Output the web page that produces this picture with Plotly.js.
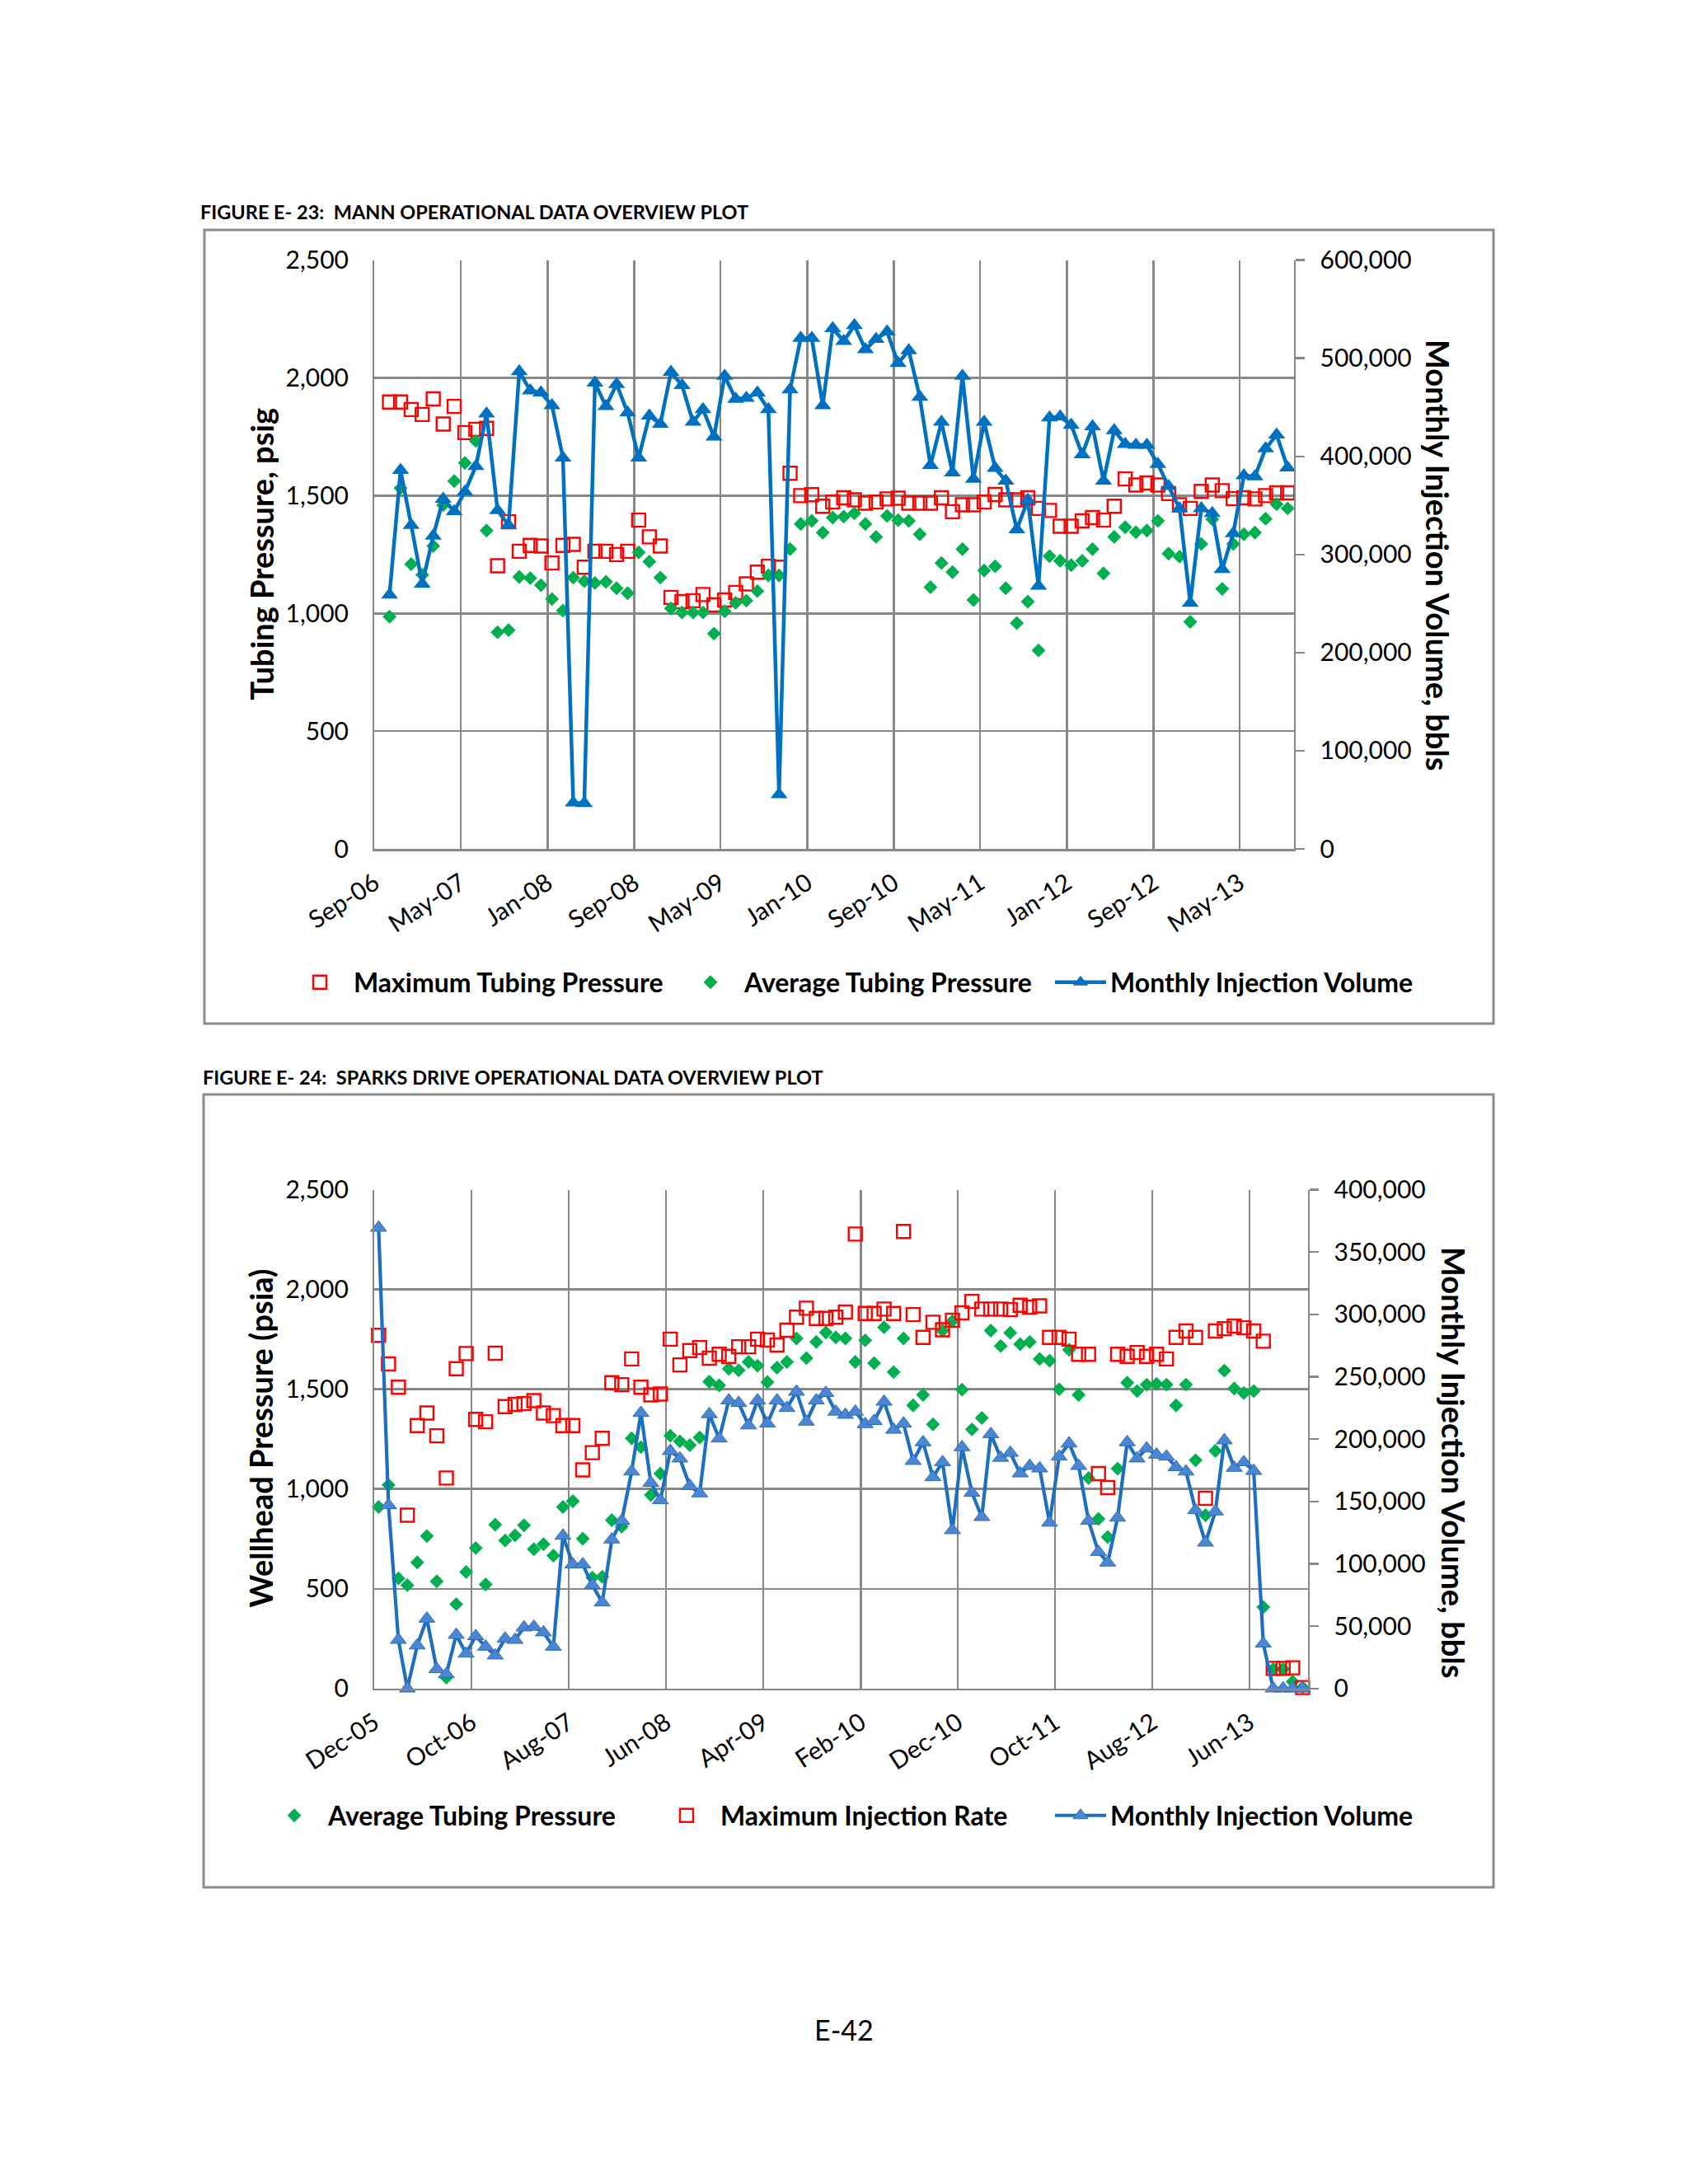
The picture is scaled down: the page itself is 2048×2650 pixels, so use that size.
<!DOCTYPE html>
<html>
<head>
<meta charset="utf-8">
<script src="https://cdn.plot.ly/plotly-3.0.1.min.js"></script>
<style>
  html, body { margin: 0; padding: 0; background: #fff; }
  #page { width: 2048px; height: 2650px; }
</style>
</head>
<body>
<div id="page"></div>
<script>
// Figure E-23, Mann well: Oct-06 .. Sep-13
const mannMonths = [
  "2006-10","2006-11","2006-12",
  "2007-01","2007-02","2007-03","2007-04","2007-05","2007-06","2007-07","2007-08","2007-09","2007-10","2007-11","2007-12",
  "2008-01","2008-02","2008-03","2008-04","2008-05","2008-06","2008-07","2008-08","2008-09","2008-10","2008-11","2008-12",
  "2009-01","2009-02","2009-03","2009-04","2009-05","2009-06","2009-07","2009-08","2009-09","2009-10","2009-11","2009-12",
  "2010-01","2010-02","2010-03","2010-04","2010-05","2010-06","2010-07","2010-08","2010-09","2010-10","2010-11","2010-12",
  "2011-01","2011-02","2011-03","2011-04","2011-05","2011-06","2011-07","2011-08","2011-09","2011-10","2011-11","2011-12",
  "2012-01","2012-02","2012-03","2012-04","2012-05","2012-06","2012-07","2012-08","2012-09","2012-10","2012-11","2012-12",
  "2013-01","2013-02","2013-03","2013-04","2013-05","2013-06","2013-07","2013-08","2013-09"
];
const mannMaxTubing = [
  1898, 1898, 1866, 1845, 1911, 1804, 1879, 1768, 1782, 1786,
  1202, 1389, 1264, 1289, 1286, 1214, 1289, 1293, 1196, 1264,
  1264, 1250, 1264, 1396, 1325, 1286, 1068, 1050, 1054, 1080,
  1036, 1057, 1089, 1125, 1175, 1200, 1196, 1595, 1500, 1504,
  1455, 1473, 1491, 1482, 1468, 1473, 1486, 1489, 1468, 1468,
  1468, 1491, 1432, 1461, 1461, 1473, 1505, 1482, 1482, 1491,
  1446, 1437, 1370, 1370, 1393, 1407, 1396, 1455, 1571, 1545,
  1554, 1545, 1509, 1461, 1446, 1518, 1545, 1521, 1487, 1491,
  1486, 1500, 1512, 1512
];
const mannAvgTubing = [
  986, 1532, 1209, 1164, 1286, 1460, 1562, 1639, 1732, 1352,
  920, 929, 1155, 1150, 1120, 1061, 1012, 1152, 1137, 1129,
  1134, 1107, 1086, 1259, 1220, 1152, 1021, 1004, 1004, 1004,
  914, 1009, 1045, 1054, 1095, 1161, 1161, 1273, 1380, 1393,
  1343, 1407, 1411, 1425, 1380, 1325, 1414, 1396, 1393, 1336,
  1111, 1214, 1175, 1273, 1057, 1182, 1200, 1107, 959, 1050,
  843, 1243, 1223, 1205, 1223, 1273, 1170, 1325, 1366, 1345,
  1352, 1393, 1254, 1241, 964, 1295, 1400, 1104, 1295, 1336,
  1343, 1402, 1464, 1446
];
const mannVolume = [
  259000, 386000, 330000, 270000, 319000, 356500, 344000, 364000, 390000, 443500,
  345000, 330000, 486500, 467000, 465000, 452000, 398500, 47000, 46500, 475000,
  451000, 473500, 444500, 398500, 441500, 433000, 486000, 472500, 435000, 448000,
  420000, 482000, 458500, 459500, 465000, 448000, 55500, 468000, 520500, 520500,
  452000, 530500, 517500, 533500, 509000, 519500, 527000, 495000, 508000, 460500,
  391000, 435000, 383500, 482000, 377000, 435000, 388000, 375000, 325500, 355500,
  268000, 439500, 440500, 432000, 402000, 430500, 375000, 426500, 412500, 411500,
  411500, 392000, 369500, 347000, 250500, 347000, 342000, 285000, 321500, 380500,
  379500, 408000, 422000, 388500
];

// Figure E-24, Sparks Drive well: Dec-05 .. Nov-13
const sparksMonths = [
  "2005-12",
  "2006-01","2006-02","2006-03","2006-04","2006-05","2006-06","2006-07","2006-08","2006-09","2006-10","2006-11","2006-12",
  "2007-01","2007-02","2007-03","2007-04","2007-05","2007-06","2007-07","2007-08","2007-09","2007-10","2007-11","2007-12",
  "2008-01","2008-02","2008-03","2008-04","2008-05","2008-06","2008-07","2008-08","2008-09","2008-10","2008-11","2008-12",
  "2009-01","2009-02","2009-03","2009-04","2009-05","2009-06","2009-07","2009-08","2009-09","2009-10","2009-11","2009-12",
  "2010-01","2010-02","2010-03","2010-04","2010-05","2010-06","2010-07","2010-08","2010-09","2010-10","2010-11","2010-12",
  "2011-01","2011-02","2011-03","2011-04","2011-05","2011-06","2011-07","2011-08","2011-09","2011-10","2011-11","2011-12",
  "2012-01","2012-02","2012-03","2012-04","2012-05","2012-06","2012-07","2012-08","2012-09","2012-10","2012-11","2012-12",
  "2013-01","2013-02","2013-03","2013-04","2013-05","2013-06","2013-07","2013-08","2013-09","2013-10","2013-11"
];
const sparksAvgTubing = [
  910, 1020, 552, 518, 632, 764, 537, 55, 423, 584,
  704, 522, 821, 742, 768, 818, 698, 723, 666, 910,
  939, 751, 556, 560, 844, 812, 1254, 1210, 970, 1077,
  1267, 1239, 1220, 1258, 1538, 1519, 1603, 1595, 1637, 1618,
  1536, 1608, 1637, 1755, 1656, 1737, 1785, 1760, 1755, 1637,
  1745, 1631, 1811, 1586, 1755, 1419, 1472, 1324, 1794, 1842,
  1498, 1299, 1356, 1794, 1717, 1783, 1726, 1737, 1652, 1643,
  1500, 1698, 1472, 1055, 850, 759, 1102, 1533, 1491, 1523,
  1527, 1523, 1419, 1523, 1144, 869, 1191, 1593, 1504, 1481,
  1491, 408, 97, 97, 34, 6
];
const sparksMaxRate = [
  1770, 1627, 1510, 869, 1318, 1381, 1267, 1055, 1603, 1679,
  1349, 1337, 1681, 1413, 1424, 1428, 1443, 1381, 1368, 1318,
  1318, 1096, 1182, 1254, 1533, 1523, 1652, 1510, 1472, 1476,
  1751, 1622, 1694, 1709, 1656, 1675, 1665, 1713, 1713, 1751,
  1747, 1722, 1796, 1861, 1906, 1855, 1855, 1861, 1887, 2278,
  1880, 1880, 1902, 1880, 2291, 1874, 1760, 1836, 1798, 1846,
  1883, 1940, 1902, 1902, 1902, 1899, 1921, 1912, 1918, 1760,
  1760, 1751, 1675, 1675, 1077, 1007, 1675, 1665, 1684, 1665,
  1675, 1652, 1760, 1792, 1760, 954, 1792, 1804, 1817, 1808,
  1792, 1741, 101, 101, 104, 5
];
const sparksVolume = [
  369500, 147000, 39000, 0, 34500, 56000, 15500, 11500, 43000, 28000,
  42000, 33500, 26500, 40000, 39000, 49000, 49500, 45000, 33500, 122500,
  99500, 99500, 83000, 69000, 119500, 134500, 174000, 221000, 165000, 151000,
  190500, 184500, 162500, 156500, 220000, 200500, 231000, 229000, 211000, 231000,
  212500, 231000, 225000, 238000, 214000, 231000, 237000, 222000, 219500, 222000,
  212000, 214500, 230000, 207500, 212500, 182500, 197500, 169500, 181500, 127000,
  193500, 157000, 137500, 204000, 185000, 189000, 172500, 178500, 176500, 133000,
  186000, 196500, 178500, 134500, 109500, 101000, 137000, 197500, 184500, 192500,
  187500, 186000, 177500, 174000, 143000, 117000, 142000, 199000, 177000, 181500,
  174500, 36000, 0, 0, 0, 0
];

const mannX = mannMonths.map(m => m + "-13");
const sparksX = sparksMonths.map(m => m + "-14");

const GRID = "#888888";
const FONT = "Lato, 'Open Sans', sans-serif";

const data = [
  {
    type: "scatter", mode: "markers", name: "Maximum Tubing Pressure",
    x: mannX, y: mannMaxTubing, xaxis: "x", yaxis: "y", legend: "legend",
    marker: {symbol: "square-open", size: 16, color: "#FF0000", line: {width: 2.4}},
    cliponaxis: false, hoverinfo: "skip"
  },
  {
    type: "scatter", mode: "markers", name: "Average Tubing Pressure",
    x: mannX, y: mannAvgTubing, xaxis: "x", yaxis: "y", legend: "legend2",
    marker: {symbol: "diamond", size: 13, color: "#00B050"},
    cliponaxis: false, hoverinfo: "skip"
  },
  {
    type: "scatter", mode: "lines+markers", name: "Monthly Injection Volume",
    x: mannX, y: mannVolume, xaxis: "x", yaxis: "y2", legend: "legend3",
    line: {color: "#0070C0", width: 4.5},
    marker: {symbol: "triangle-up", size: 18, color: "#0070C0"},
    cliponaxis: false, hoverinfo: "skip"
  },
  {
    type: "scatter", mode: "markers", name: "Average Tubing Pressure",
    x: sparksX, y: sparksAvgTubing, xaxis: "x2", yaxis: "y3", legend: "legend4",
    marker: {symbol: "diamond", size: 13, color: "#00B050"},
    cliponaxis: false, hoverinfo: "skip"
  },
  {
    type: "scatter", mode: "markers", name: "Maximum Injection Rate",
    x: sparksX, y: sparksMaxRate, xaxis: "x2", yaxis: "y3", legend: "legend5",
    marker: {symbol: "square-open", size: 16, color: "#FF0000", line: {width: 2.4}},
    cliponaxis: false, hoverinfo: "skip"
  },
  {
    type: "scatter", mode: "lines+markers", name: "Monthly Injection Volume",
    x: sparksX, y: sparksVolume, xaxis: "x2", yaxis: "y4", legend: "legend6",
    line: {color: "#1F6FC0", width: 4.2},
    marker: {symbol: "triangle-up", size: 17, color: "#4A86D2", line: {color: "#2F6DB8", width: 1}},
    cliponaxis: false, hoverinfo: "skip"
  }
];

const tickFont = {family: FONT, size: 30, color: "#000"};

function dateAxis(domain, anchor, range, tick0, dtick) {
  return {
    domain: domain, anchor: anchor, type: "date",
    range: range, tick0: tick0, dtick: dtick, tickformat: "%b-%y",
    tickangle: -33, tickfont: tickFont, ticklabelstandoff: 10,
    showgrid: true, gridcolor: GRID, gridwidth: 2.5,
    showline: true, linecolor: GRID, linewidth: 2.5,
    ticks: "", zeroline: false, fixedrange: true
  };
}
function leftAxis(domain, anchor) {
  return {
    domain: domain, anchor: anchor, range: [0, 2500], dtick: 500, tickformat: ",",
    tickfont: tickFont, showgrid: true, gridcolor: GRID, gridwidth: 2.5,
    showline: true, linecolor: GRID, linewidth: 2.5, mirror: false,
    ticks: "", ticklabelstandoff: 23, zeroline: false, fixedrange: true
  };
}
function rightAxis(over, anchor, max, step) {
  return {
    overlaying: over, anchor: anchor, side: "right", range: [0, max], dtick: step,
    tickformat: ",", tickfont: tickFont, showgrid: false,
    showline: true, linecolor: GRID, linewidth: 2.5,
    ticks: "outside", ticklen: 11, tickwidth: 2.5, tickcolor: GRID,
    ticklabelstandoff: 12, zeroline: false, fixedrange: true
  };
}
function legendAt(x, y, itemwidth) {
  return {
    x: x, y: y, xanchor: "left", yanchor: "middle", orientation: "h",
    itemwidth: itemwidth, bgcolor: "rgba(0,0,0,0)", borderwidth: 0,
    font: {family: FONT, size: 32, color: "#000", weight: 700}
  };
}
function note(text, x, y, size, opts) {
  return Object.assign({
    text: text, x: x, y: y, xref: "paper", yref: "paper", showarrow: false,
    xanchor: "center", yanchor: "middle",
    font: {family: FONT, size: size, color: "#000", weight: 700}
  }, opts || {});
}

const layout = {
  width: 2048, height: 2650,
  margin: {l: 0, r: 0, t: 0, b: 0},
  paper_bgcolor: "#fff", plot_bgcolor: "#fff",
  font: {family: FONT, color: "#000"},
  showlegend: true,
  xaxis: dateAxis([0.22192, 0.76660], "y", ["2006-09-01", "2013-10-01"], "2006-09-01", "M8"),
  yaxis: leftAxis([0.61132, 0.88087], "x"),
  yaxis2: rightAxis("y", "x", 600000, 100000),
  xaxis2: dateAxis([0.22183, 0.77490], "y3", ["2005-12-01", "2013-12-01"], "2005-12-01", "M10"),
  yaxis3: leftAxis([0.22687, 0.45525], "x2"),
  yaxis4: rightAxis("y3", "x2", 400000, 50000),
  legend: legendAt((429 - 82) / 2048, 0.5502, 72),
  legend2: legendAt((903 - 82) / 2048, 0.5502, 72),
  legend3: legendAt((1347 - 72) / 2048, 0.5502, 62),
  legend4: legendAt((398 - 82) / 2048, 0.1687, 72),
  legend5: legendAt((874 - 82) / 2048, 0.1687, 72),
  legend6: legendAt((1347 - 72) / 2048, 0.1687, 62),
  shapes: [
    {type: "rect", xref: "paper", yref: "paper", x0: 0.12109, x1: 0.88477, y0: 0.53132, y1: 0.89472,
     line: {color: "#8C8C8C", width: 3}, layer: "below"},
    {type: "rect", xref: "paper", yref: "paper", x0: 0.12061, x1: 0.88477, y0: 0.13585, y1: 0.49887,
     line: {color: "#8C8C8C", width: 3}, layer: "below"}
  ],
  annotations: [
    note("FIGURE E- 23:\u00a0\u00a0MANN OPERATIONAL DATA OVERVIEW PLOT", 0.11768, 0.90302, 23.5,
         {xanchor: "left"}),
    note("FIGURE E- 24:\u00a0\u00a0SPARKS DRIVE OPERATIONAL DATA OVERVIEW PLOT", 0.11914, 0.50679, 23.5,
         {xanchor: "left"}),
    note("Tubing Pressure, psig", 0.15479, 0.74619, 38, {textangle: -90}),
    note("Monthly Injection Volume, bbls", 0.85205, 0.74566, 38, {textangle: 90}),
    note("Wellhead Pressure (psia)", 0.15430, 0.34128, 38, {textangle: -90}),
    note("Monthly Injection Volume, bbls", 0.86133, 0.33057, 38, {textangle: 90}),
    note("E-42", 0.5, 0.07057, 34, {font: {family: FONT, size: 34, color: "#000"}})
  ]
};

Plotly.newPlot("page", data, layout, {staticPlot: true, displayModeBar: false});
</script>
</body>
</html>
